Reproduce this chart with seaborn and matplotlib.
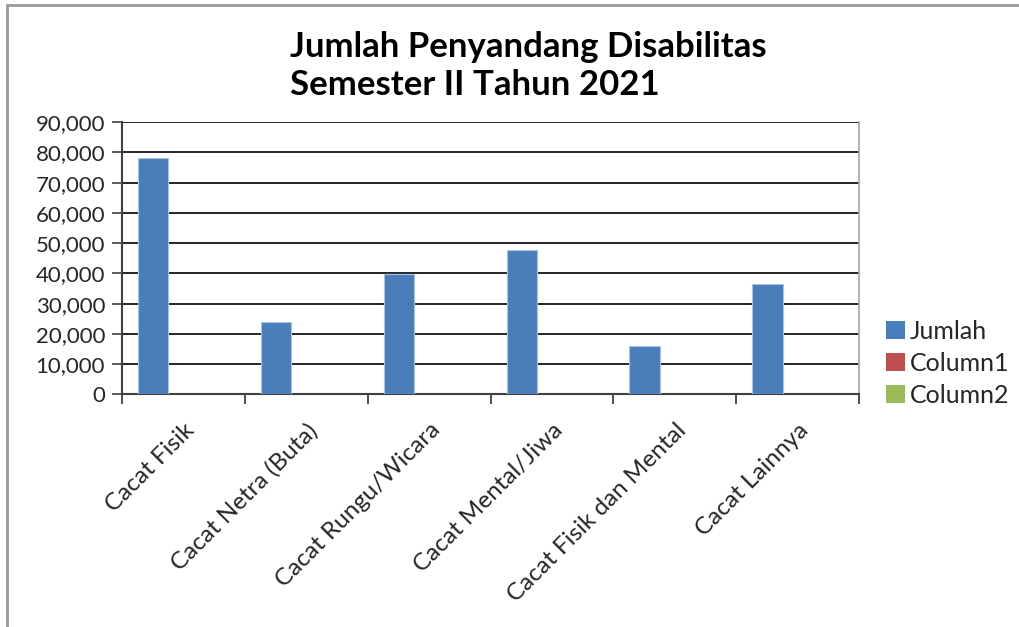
import numpy as np
import pandas as pd
import matplotlib
matplotlib.use('Agg')
import matplotlib.pyplot as plt
from matplotlib.patches import Patch
from matplotlib.lines import Line2D
from matplotlib.ticker import FuncFormatter, FixedLocator
import seaborn as sns

# DATA
categories = ['Cacat Fisik', 'Cacat Netra (Buta)', 'Cacat Rungu/Wicara',
              'Cacat Mental/Jiwa', 'Cacat Fisik dan Mental', 'Cacat Lainnya']
jumlah = [78300, 24000, 39700, 47600, 16100, 36600]
column1 = [np.nan] * 6   # empty series in the original sheet
column2 = [np.nan] * 6
series_names = ['Jumlah', 'Column1', 'Column2']
series_colors = ['#4a7ebb', '#c0504d', '#9bbb59']
y_ticks = list(range(0, 90001, 10000))
title = 'Jumlah Penyandang Disabilitas\nSemester II Tahun 2021'

df = pd.DataFrame({
    'kategori': categories * 3,
    'seri': ['Jumlah'] * 6 + ['Column1'] * 6 + ['Column2'] * 6,
    'nilai': jumlah + column1 + column2,
})

sns.set_style('white')
plt.rcParams['font.family'] = ['Lato', 'DejaVu Sans']

fig = plt.figure(figsize=(10.2, 6.27), dpi=100)
ax = fig.add_axes([0.1193, 0.3711, 0.8425 - 0.1193, 0.805 - 0.3711])

sns.barplot(data=df, x='kategori', y='nilai', hue='seri', hue_order=series_names,
            order=categories, palette=series_colors, width=0.74, errorbar=None,
            saturation=1, edgecolor='#a9c1e2', linewidth=0.8, legend=False, ax=ax, zorder=3)

# AXES
ax.set_xlim(-0.5, len(categories) - 0.5)
ax.set_ylim(0, 90000)
ax.yaxis.set_major_locator(FixedLocator(y_ticks))
ax.yaxis.set_major_formatter(FuncFormatter(lambda v, p: f'{int(v):,}'))
ax.grid(axis='y', color='black', linewidth=1.2, zorder=1)
ax.set_axisbelow(True)
ax.set_xlabel('')
ax.set_ylabel('')

ax.xaxis.set_minor_locator(FixedLocator(np.arange(-0.5, len(categories), 1.0)))
ax.tick_params(axis='x', which='major', length=0, pad=18, labelsize=17.5, labelcolor='#262626')
ax.tick_params(axis='x', which='minor', length=7, width=1.3, color='#404040', direction='out', bottom=True)
ax.tick_params(axis='y', which='major', length=7, width=1.2, color='#404040', direction='out',
               left=True, pad=5, labelsize=16, labelcolor='#262626')
for lab in ax.get_xticklabels():
    lab.set_rotation(45)
    lab.set_ha('right')
    lab.set_va('top')
    lab.set_rotation_mode('anchor')

for side in ['left', 'bottom']:
    ax.spines[side].set_color('#404040')
    ax.spines[side].set_linewidth(1.5)
ax.spines['top'].set_visible(False)
ax.spines['right'].set_color('#a6a6a6')
ax.spines['right'].set_linewidth(1.2)

# TITLE
fig.text(0.2843, 0.951, title, ha='left', va='top', fontsize=25, fontweight='bold',
         color='black', linespacing=1.25)

# LEGEND
handles = [Patch(facecolor=c, edgecolor='none') for c in series_colors]
fig.legend(handles, series_names, loc='center left', bbox_to_anchor=(0.869, 0.421),
           frameon=False, fontsize=18, handlelength=0.75, handleheight=0.75,
           handletextpad=0.2, labelspacing=0.36, borderpad=0, borderaxespad=0,
           labelcolor='#262626')

# border of the screenshot
fig.add_artist(Line2D([0.0073, 1.0], [0.992, 0.992], transform=fig.transFigure, color='#999999', lw=2))
fig.add_artist(Line2D([0.0073, 0.0073], [0.0, 0.992], transform=fig.transFigure, color='#999999', lw=2))

plt.savefig('out.png', dpi=100)
